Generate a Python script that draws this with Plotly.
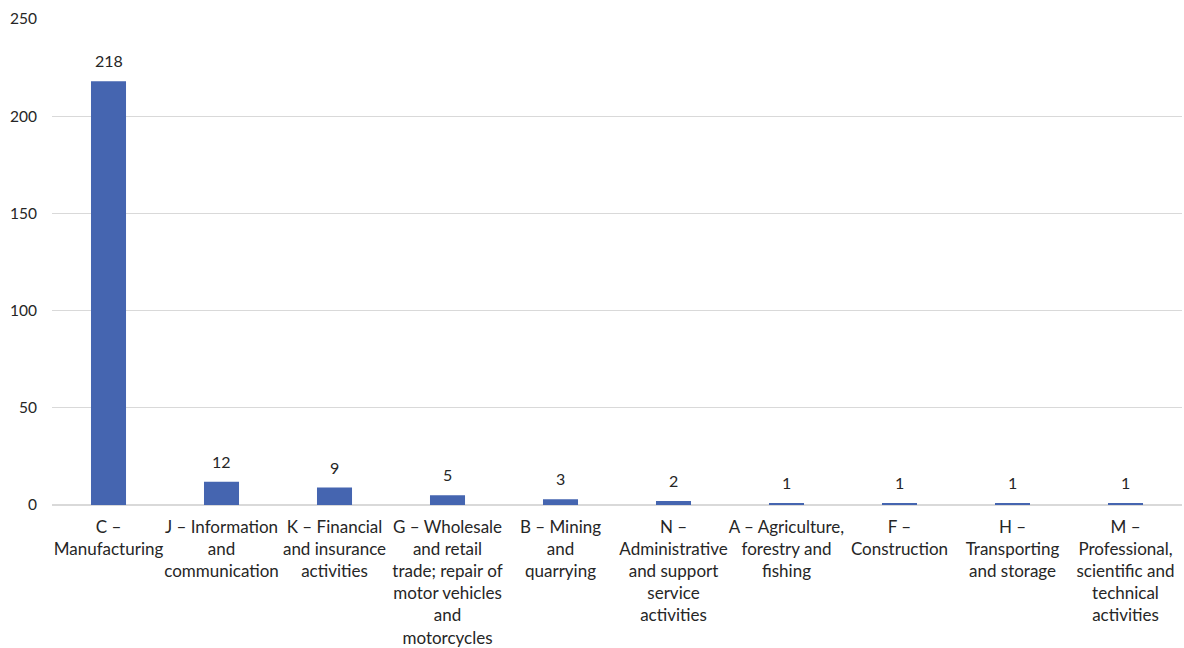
import plotly.graph_objects as go

# Enterprises by economic sector (NACE section)
sectors = [
    "C –<br>Manufacturing",
    "J – Information<br>and<br>communication",
    "K – Financial<br>and insurance<br>activities",
    "G – Wholesale<br>and retail<br>trade; repair of<br>motor vehicles<br>and<br>motorcycles",
    "B – Mining<br>and<br>quarrying",
    "N –<br>Administrative<br>and support<br>service<br>activities",
    "A – Agriculture,<br>forestry and<br>fishing",
    "F –<br>Construction",
    "H –<br>Transporting<br>and storage",
    "M –<br>Professional,<br>scientific and<br>technical<br>activities",
]
counts = [218, 12, 9, 5, 3, 2, 1, 1, 1, 1]
y_ticks = [0, 50, 100, 150, 200, 250]

FONT = "Lato, 'Open Sans', sans-serif"
TEXT = "#262626"
xs = list(range(len(sectors)))

fig = go.Figure(
    go.Bar(
        x=xs,
        y=counts,
        marker=dict(color="#4565B0", line=dict(width=0)),
        width=0.31,
    )
)

# value labels above each bar
for x, c in zip(xs, counts):
    fig.add_annotation(
        x=x, y=c, text=str(c), showarrow=False,
        yanchor="bottom", yshift=9,
        font=dict(family=FONT, size=16, color=TEXT),
    )

fig.update_layout(
    width=1184,
    height=648,
    margin=dict(l=52, r=2, t=19, b=143),
    paper_bgcolor="white",
    plot_bgcolor="white",
    showlegend=False,
    font=dict(family=FONT, size=16, color=TEXT),
)

fig.update_xaxes(
    tickmode="array",
    tickvals=xs,
    ticktext=sectors,
    range=[-0.5, len(sectors) - 0.5],
    showgrid=False,
    showline=False,
    ticks="",
    tickangle=0,
    automargin=False,
    tickfont=dict(family=FONT, size=17, color=TEXT),
    ticklabelstandoff=10,
)

fig.update_yaxes(
    range=[0, 250],
    tickmode="array",
    tickvals=y_ticks,
    showgrid=True,
    gridcolor="#d9d9d9",
    gridwidth=1.3,
    zeroline=True,
    zerolinecolor="#d9d9d9",
    zerolinewidth=2,
    showline=False,
    ticks="",
    automargin=False,
    ticklabelstandoff=14,
    tickfont=dict(family=FONT, size=15.5, color=TEXT),
)

fig.write_html("out.html")
